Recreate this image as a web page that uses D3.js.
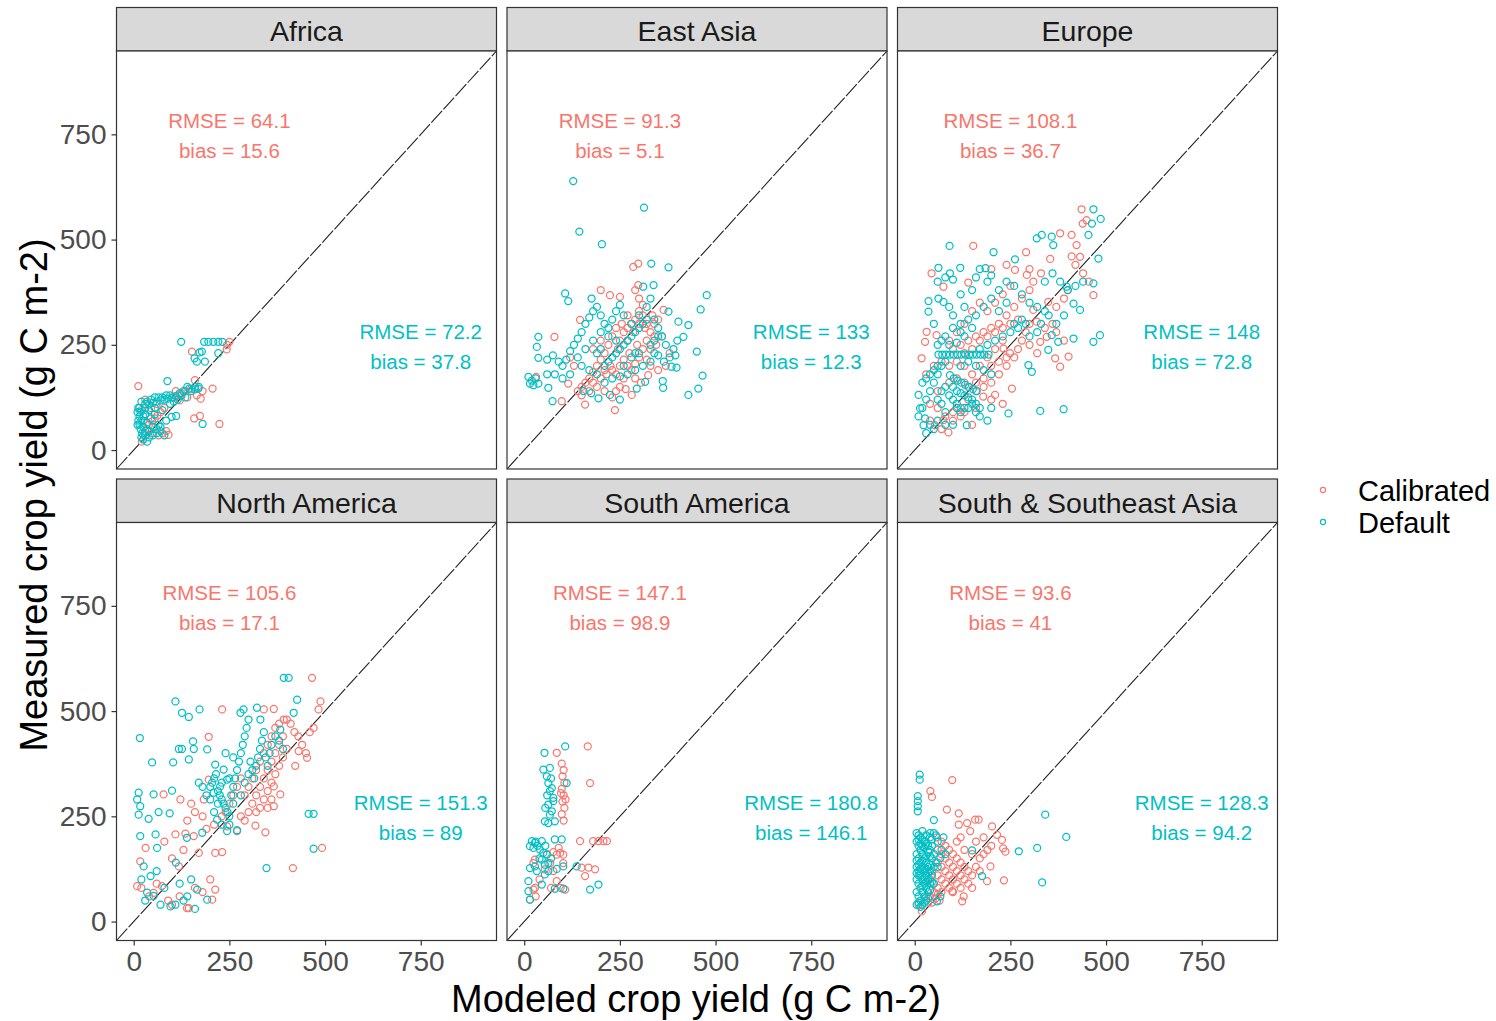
<!DOCTYPE html>
<html>
<head>
<meta charset="utf-8">
<script src="https://cdn.jsdelivr.net/npm/d3@7"></script>
<style>
  body { margin: 0; background: #fff; }
  text { font-family: "Liberation Sans", Arial, sans-serif; }
</style>
</head>
<body>
<svg id="chart" width="1496" height="1021"></svg>
<script>
// facet names and stats
var regions = ["Africa", "East Asia", "Europe", "North America", "South America", "South & Southeast Asia"]
var rmseCal = [64.1, 91.3, 108.1, 105.6, 147.1, 93.6]
var biasCal = [15.6, 5.1, 36.7, 17.1, 98.9, 41]
var rmseDef = [72.2, 133, 148, 151.3, 180.8, 128.3]
var biasDef = [37.8, 12.3, 72.8, 89, 146.1, 94.2]
var ticks = [0, 250, 500, 750]
var series = ["Calibrated", "Default"]

// [modeled, measured]
var africaCal = [[12,152],[160,166],[206,146],[224,62],[173,81],[158,75],[243,239],[250,257],[244,250],[152,234],[91,36],[21,20],
  [40,60],[48,68],[55,75],[62,82],[70,90],[35,50],[28,40],[80,100],[105,125],[115,130],[125,135],[135,140],[120,118],[140,125],
  [165,130],[175,122],[180,140],[60,110],[45,100],[30,120],[20,95],[75,40],[65,35],[85,45],[110,140],[150,145],[50,40],[25,70]]
var africaDef = [[124,257],[184,257],[195,257],[208,257],[221,257],[232,257],[172,232],[159,218],[165,210],[186,210],[178,234],[221,230],
  [88,164],[169,146],[160,144],[111,81],[99,79],[180,62],[145,146],[130,140],[120,135],[110,128],[100,125],[90,122],[80,120],[70,118],
  [60,115],[50,112],[40,108],[30,110],[20,115],[15,100],[18,90],[15,80],[20,70],[15,60],[18,50],[22,40],[30,35],[40,30],[50,35],
  [60,40],[70,45],[80,35],[25,55],[35,65],[45,75],[55,85],[40,95],[30,85],[55,100],[75,95],[65,60],[85,70],[25,25],[35,20],
  [150,140],[160,150],[140,150],[170,150],[125,130],[135,125],[115,120],[95,110],[105,115],[10,60],[12,70],[10,90],[12,100],
  [25,80],[30,100],[35,115],[45,120],[55,125],[65,125],[75,125],[85,130],[95,130],[40,45],[50,55],[60,50],[70,55],[30,45],[20,30]]

var eastAsiaCal = [[285,435],[298,443],[200,380],[224,368],[250,364],[298,392],[79,269],[146,309],[159,108],[237,95],[281,131],[98,116],
  [115,158],[31,174],[364,333],[324,178],[290,380],[300,360],[310,345],[270,320],[255,300],[240,290],[230,270],[220,250],[210,230],
  [200,215],[190,200],[180,185],[170,170],[160,160],[150,150],[140,140],[260,215],[270,200],[280,190],[290,205],[300,220],[310,240],
  [320,260],[330,280],[340,300],[350,310],[260,170],[250,150],[240,140],[230,125],[210,140],[190,150],[330,200],[320,215],[345,250],
  [360,270],[300,300],[285,280],[270,260],[245,240],[225,200],[215,180],[275,230],[295,250],[315,290],[335,320],[130,200],[120,220],
  [350,190],[370,200],[380,230],[265,145],[305,160],[290,170],[200,260],[180,240],[250,260],[260,280],[270,290],[280,300],[290,310],
  [300,330],[310,320],[320,300],[330,240],[340,270],[230,190],[240,180],[250,200],[210,190],[200,170],[180,160],[170,140],[150,130]]
var eastAsiaDef = [[128,639],[313,576],[144,519],[203,489],[332,443],[377,434],[477,368],[461,334],[338,392],[311,388],[107,372],[115,354],
  [176,360],[37,269],[33,245],[37,219],[11,174],[15,158],[24,154],[37,158],[20,165],[30,170],[74,116],[63,148],[194,123],[224,131],
  [429,131],[455,146],[466,177],[451,234],[416,269],[403,305],[429,297],[377,329],[362,164],[363,148],[385,198],[398,196],[294,146],
  [316,162],[60,215],[75,225],[90,210],[100,200],[110,215],[120,235],[130,250],[140,265],[150,280],[160,300],[170,315],[180,330],
  [190,340],[200,320],[210,300],[220,290],[230,310],[240,330],[250,345],[260,320],[280,300],[300,320],[320,340],[330,360],[340,310],
  [350,290],[360,270],[370,250],[380,220],[390,240],[340,230],[330,210],[310,200],[290,190],[270,180],[250,175],[230,170],[210,160],
  [190,180],[170,190],[150,200],[140,220],[160,240],[180,260],[200,280],[220,270],[240,260],[350,225],[365,210],[400,260],[395,225],
  [175,135],[155,140],[250,120],[260,200],[210,200],[220,210],[230,220],[240,230],[250,240],[260,250],[270,260],[280,270],[290,280],
  [300,290],[310,300],[320,310],[330,250],[340,260],[350,270],[300,230],[290,230],[280,220],[200,240],[190,230],[120,180],[100,170],
  [80,180],[60,180]]

var europeCal = [[436,572],[439,538],[449,546],[423,487],[432,459],[410,511],[380,515],[153,485],[291,470],[354,454],[44,420],[75,388],
  [140,398],[262,428],[293,416],[18,218],[27,257],[31,281],[57,273],[254,146],[179,127],[210,131],[88,42],[53,59],[75,71],[367,218],
  [380,198],[402,222],[328,257],[345,269],[249,230],[232,241],[310,333],[319,305],[349,352],[467,368],[455,400],[440,420],[400,380],
  [390,360],[370,340],[300,380],[280,360],[260,340],[240,320],[220,300],[200,290],[180,280],[160,270],[140,260],[120,250],[100,240],
  [190,330],[210,350],[230,370],[250,390],[170,350],[150,330],[130,300],[110,280],[90,260],[300,300],[290,280],[280,260],[270,240],
  [260,220],[240,200],[220,180],[200,160],[180,150],[160,140],[140,120],[120,100],[100,90],[80,80],[130,200],[150,180],[170,200],
  [190,220],[210,240],[230,260],[340,290],[360,300],[370,280],[390,260],[320,230],[300,250],[60,140],[40,110],[90,160],[110,170],
  [130,160],[200,120],[230,110],[150,60],[120,80],[60,100],[30,180],[50,200],[70,210],[90,200],[110,210],[130,230],[150,240],
  [170,260],[190,270],[210,280],[230,290],[250,300],[270,310],[200,200],[220,210],[240,220],[180,170],[160,160],[140,150],[40,70],
  [70,50],[100,70],[130,90],[160,100],[420,440],[410,460],[330,420],[310,400],[300,430],[240,440],[200,430]]
var europeDef = [[467,572],[486,549],[463,538],[454,511],[480,455],[467,396],[484,273],[467,257],[415,265],[91,485],[206,470],[319,503],
  [332,511],[358,507],[362,487],[62,433],[119,433],[262,453],[36,354],[36,329],[62,360],[75,352],[92,420],[100,405],[160,410],
  [170,430],[185,432],[200,415],[190,400],[62,227],[72,227],[82,227],[92,227],[102,227],[112,227],[122,227],[132,227],[142,227],
  [152,227],[162,227],[172,227],[182,227],[193,227],[92,178],[102,170],[112,165],[122,160],[132,155],[142,150],[152,145],[162,140],
  [100,150],[110,140],[120,135],[130,130],[140,125],[150,120],[160,110],[170,100],[245,87],[328,93],[389,97],[136,59],[10,131],
  [14,99],[27,75],[23,59],[306,186],[297,202],[349,238],[375,257],[358,273],[397,388],[415,348],[432,333],[10,80],[20,100],[30,120],
  [40,140],[50,160],[60,180],[70,200],[80,210],[60,250],[80,270],[100,290],[120,300],[140,310],[160,320],[180,340],[200,360],
  [220,380],[240,400],[260,390],[280,370],[300,350],[320,340],[340,330],[250,280],[270,290],[290,300],[230,270],[210,260],[190,250],
  [170,240],[300,270],[320,280],[340,400],[360,420],[380,400],[400,380],[420,390],[440,400],[130,270],[110,255],[50,300],[90,340],
  [120,370],[150,380],[40,60],[60,70],[80,90],[110,110],[130,100],[170,80],[190,70],[200,100],[20,160],[30,170],[40,180],[50,190],
  [60,200],[70,140],[80,150],[90,130],[100,120],[110,100],[120,90],[140,100],[150,110],[160,90],[60,120],[70,110],[80,60],[50,50],
  [30,40],[100,60],[120,200],[140,210],[160,200],[180,190],[200,180],[90,250],[70,260],[120,280],[150,290],[100,320],[130,340],
  [60,400],[80,410],[220,330],[240,350],[260,300],[280,310],[330,300],[350,320],[370,300],[390,320]]

var northAmCal = [[466,579],[488,523],[483,504],[340,504],[366,505],[392,480],[231,504],[196,439],[453,389],[431,405],[422,370],[366,321],
  [383,302],[366,274],[344,212],[318,228],[492,175],[416,127],[213,163],[231,165],[109,207],[135,209],[157,203],[17,143],[31,175],
  [9,84],[52,68],[74,84],[139,32],[144,32],[213,76],[205,52],[78,302],[122,290],[183,290],[196,337],[170,163],[118,131],[270,215],
  [244,226],[290,300],[300,320],[310,340],[320,360],[330,380],[340,400],[350,420],[360,440],[370,460],[380,470],[400,480],[410,470],
  [420,450],[430,440],[440,420],[450,400],[460,450],[470,460],[320,300],[330,320],[340,340],[350,360],[360,380],[370,400],[380,420],
  [390,440],[340,290],[350,310],[360,330],[370,350],[380,370],[390,390],[400,410],[310,280],[300,260],[290,240],[280,250],[320,260],
  [330,270],[350,270],[360,290],[260,300],[270,320],[280,340],[250,280],[240,260],[230,250],[210,230],[190,220],[150,280],[160,260],
  [180,250],[60,90],[90,50],[100,40],[120,60],[160,80],[180,70],[200,100],[100,150],[80,190],[20,80],[40,60],[130,170],[140,240]]
var northAmDef = [[392,579],[405,579],[109,523],[126,496],[144,486],[172,504],[16,436],[48,378],[118,410],[126,410],[157,410],[192,409],
  [155,428],[103,378],[144,385],[13,306],[9,290],[17,274],[13,254],[39,244],[52,302],[100,311],[65,260],[94,257],[17,203],[57,207],
  [61,175],[139,199],[179,211],[26,131],[44,108],[35,69],[52,61],[96,36],[109,40],[192,52],[166,76],[470,173],[347,127],[457,256],
  [470,256],[213,373],[235,361],[244,337],[226,321],[209,306],[218,242],[244,215],[270,217],[287,504],[279,496],[322,508],[331,480],
  [427,527],[418,496],[383,456],[200,320],[205,330],[210,340],[215,350],[220,310],[225,300],[230,290],[235,280],[240,270],[245,260],
  [250,250],[255,300],[260,320],[265,340],[270,360],[275,380],[280,400],[285,420],[290,440],[295,460],[300,480],[305,380],[310,360],
  [315,340],[320,370],[325,390],[330,410],[335,430],[340,450],[345,390],[350,370],[355,400],[360,420],[370,440],[380,430],[390,410],
  [260,280],[280,300],[290,330],[300,350],[230,330],[250,340],[260,390],[240,400],[220,280],[210,260],[200,290],[190,300],[180,320],
  [170,330],[230,230],[250,230],[80,80],[60,120],[120,90],[140,60],[150,100],[110,140],[20,100],[30,50],[70,40],[130,50],[160,30]]

var southAmCal = [[166,416],[85,401],[172,329],[98,375],[103,360],[100,345],[105,330],[98,315],[103,300],[100,285],[105,270],[98,255],
  [103,240],[96,305],[108,290],[146,191],[180,191],[194,191],[207,191],[216,191],[76,165],[94,163],[85,159],[102,159],[28,147],
  [24,139],[68,139],[102,139],[150,128],[168,128],[185,124],[159,108],[85,96],[24,76],[15,52],[28,80],[107,76],[54,124],[76,120],
  [60,160],[90,175],[40,100],[30,60],[95,80],[70,80]]
var southAmDef = [[107,416],[53,401],[50,361],[67,365],[59,345],[63,329],[67,310],[76,294],[63,278],[67,254],[63,234],[54,238],[80,238],
  [72,262],[76,286],[72,317],[111,329],[60,300],[70,340],[55,270],[20,191],[28,187],[46,191],[15,179],[24,175],[41,171],[50,163],
  [59,159],[46,147],[54,135],[63,139],[15,127],[33,120],[54,112],[63,120],[28,131],[11,96],[11,72],[15,52],[46,88],[80,78],[102,78],
  [80,195],[98,195],[137,131],[172,76],[194,88],[102,131],[35,180],[55,180],[40,150],[70,150],[30,190],[85,125]]

var ssAsiaCal = [[98,336],[41,310],[45,296],[84,266],[115,257],[158,242],[167,242],[115,230],[145,215],[137,234],[202,226],[215,206],
  [228,194],[231,174],[237,166],[198,131],[189,96],[233,98],[128,60],[124,48],[98,72],[10,40],[19,24],[58,200],[70,190],[80,180],
  [90,170],[100,160],[110,150],[120,140],[130,130],[140,120],[150,110],[60,170],[70,160],[80,150],[90,140],[100,130],[110,120],
  [120,110],[130,100],[140,90],[150,80],[60,140],[70,130],[80,120],[90,110],[100,100],[110,90],[120,80],[60,110],[70,100],[80,90],
  [90,80],[100,70],[50,90],[60,80],[40,100],[45,120],[160,130],[170,150],[180,160],[190,170],[200,180],[160,190],[180,200],[130,170],
  [150,160],[170,120],[30,60],[120,200],[110,190],[40,60],[50,70],[55,55],[45,45],[35,45],[60,65],[65,50],[70,70]]
var ssAsiaDef = [[13,349],[13,337],[8,298],[8,286],[8,274],[8,262],[50,241],[341,254],[396,201],[272,167],[320,175],[333,93],[176,108],
  [150,169],[67,151],[58,48],[67,60],[5,210],[10,205],[15,200],[20,195],[25,190],[30,185],[35,180],[5,190],[10,180],[15,170],[20,160],
  [25,150],[30,140],[35,130],[40,120],[5,160],[10,150],[15,140],[20,130],[25,120],[30,110],[35,100],[40,90],[5,130],[10,120],[15,110],
  [20,100],[25,90],[30,80],[35,70],[5,100],[10,90],[15,80],[20,70],[25,60],[10,60],[15,50],[40,200],[45,180],[50,160],[55,140],
  [60,130],[45,110],[50,90],[40,210],[20,215],[30,205],[70,170],[80,160],[75,200],[60,190],[5,40],[10,45],[15,35],[20,40],[25,45],
  [30,50],[35,55],[5,70],[30,95],[35,115],[40,135],[40,155],[35,165],[25,175],[15,185],[40,170],[45,150],[50,130],[45,95],[40,75],
  [20,85],[10,110],[25,105],[20,145],[10,135],[30,125],[5,115],[15,125],[5,145],[30,155],[20,180],[10,195],[45,195],[55,205],[50,210]]

var calData = [africaCal, eastAsiaCal, europeCal, northAmCal, southAmCal, ssAsiaCal]
var defData = [africaDef, eastAsiaDef, europeDef, northAmDef, southAmDef, ssAsiaDef]

var colors = d3.scaleOrdinal().domain(series).range(["#F8766D", "#00BFC4"])

var svg = d3.select("#chart")
var colX = [116.5, 507, 897.5]
var rowY = [7.5, 479]
var stripH = 43.5
var pw = 380, ph = 418
var dom = [-45, 948]

regions.forEach((name, i) => {
  var c = i % 3, r = Math.floor(i / 3)
  var x0 = colX[c], top = rowY[r] + stripH
  var x = d3.scaleLinear().domain(dom).range([x0, x0 + pw])
  var y = d3.scaleLinear().domain(dom).range([top + ph, top])

  // strip
  svg.append("rect")
    .attr("x", x0).attr("y", rowY[r]).attr("width", pw).attr("height", stripH)
    .attr("fill", "#d9d9d9").attr("stroke", "#333").attr("stroke-width", 1.2)
  svg.append("text")
    .attr("x", x0 + pw / 2).attr("y", rowY[r] + stripH / 2 + 2)
    .attr("text-anchor", "middle").attr("dominant-baseline", "central")
    .attr("font-size", 28.5).attr("fill", "#1a1a1a")
    .text(name)

  var g = svg.append("g")
  g.append("rect")
    .attr("x", x0).attr("y", top).attr("width", pw).attr("height", ph)
    .attr("fill", "#fff")

  // 1:1 line
  g.append("line")
    .attr("x1", x(dom[0])).attr("y1", y(dom[0]))
    .attr("x2", x(dom[1])).attr("y2", y(dom[1]))
    .attr("stroke", "#222").attr("stroke-width", 1.1)
    .attr("stroke-dasharray", "16,2")

  var drawPts = (pts, s) => {
    g.append("g").selectAll("circle")
      .data(pts).enter().append("circle")
      .attr("cx", d => x(d[0])).attr("cy", d => y(d[1]))
      .attr("r", 3.5)
      .attr("fill", "none")
      .attr("stroke", colors(s))
      .attr("stroke-width", 1.25)
  }
  drawPts(calData[i], "Calibrated")
  drawPts(defData[i], "Default")

  // annotations
  var note = (cx, cy, lines, s) => {
    g.append("text")
      .attr("x", x(cx)).attr("y", y(cy))
      .attr("text-anchor", "middle").attr("font-size", 20.5)
      .attr("fill", colors(s))
      .selectAll("tspan").data(lines).enter().append("tspan")
      .attr("x", x(cx)).attr("dy", (d, k) => k == 0 ? 0 : 30)
      .text(d => d)
  }
  note(250, 765, ["RMSE = " + rmseCal[i], "bias = " + biasCal[i]], "Calibrated")
  note(750, 265, ["RMSE = " + rmseDef[i], "bias = " + biasDef[i]], "Default")

  g.append("rect")
    .attr("x", x0).attr("y", top).attr("width", pw).attr("height", ph)
    .attr("fill", "none").attr("stroke", "#333").attr("stroke-width", 1.2)

  // axes
  if (c == 0) {
    var ya = svg.append("g").attr("transform", "translate(" + x0 + ",0)")
      .call(d3.axisLeft(y).tickValues(ticks).tickSize(5).tickPadding(5))
    ya.select(".domain").remove()
    ya.selectAll("line").attr("stroke", "#333").attr("stroke-width", 1.2)
    ya.selectAll("text").attr("font-size", 28).attr("fill", "#4d4d4d")
      .attr("font-family", "Liberation Sans, Arial, sans-serif")
  }
  if (r == 1) {
    var xa = svg.append("g").attr("transform", "translate(0," + (top + ph) + ")")
      .call(d3.axisBottom(x).tickValues(ticks).tickSize(5).tickPadding(6))
    xa.select(".domain").remove()
    xa.selectAll("line").attr("stroke", "#333").attr("stroke-width", 1.2)
    xa.selectAll("text").attr("font-size", 28).attr("fill", "#4d4d4d")
      .attr("font-family", "Liberation Sans, Arial, sans-serif")
  }
})

// axis titles
svg.append("text")
  .attr("x", 696).attr("y", 1012)
  .attr("text-anchor", "middle").attr("font-size", 38).attr("fill", "#000")
  .text("Modeled crop yield (g C m-2)")
svg.append("text")
  .attr("transform", "translate(47,495) rotate(-90)")
  .attr("text-anchor", "middle").attr("font-size", 38).attr("fill", "#000")
  .text("Measured crop yield (g C m-2)")

// legend
var leg = svg.append("g").attr("transform", "translate(1323,490)")
series.forEach((s, k) => {
  leg.append("circle").attr("cx", 0).attr("cy", k * 32).attr("r", 2.6)
    .attr("fill", "none").attr("stroke", colors(s)).attr("stroke-width", 1.1)
  leg.append("text").attr("x", 35).attr("y", k * 32 + 1)
    .attr("dominant-baseline", "central").attr("font-size", 29).attr("fill", "#000")
    .text(s)
})
</script>
</body>
</html>
